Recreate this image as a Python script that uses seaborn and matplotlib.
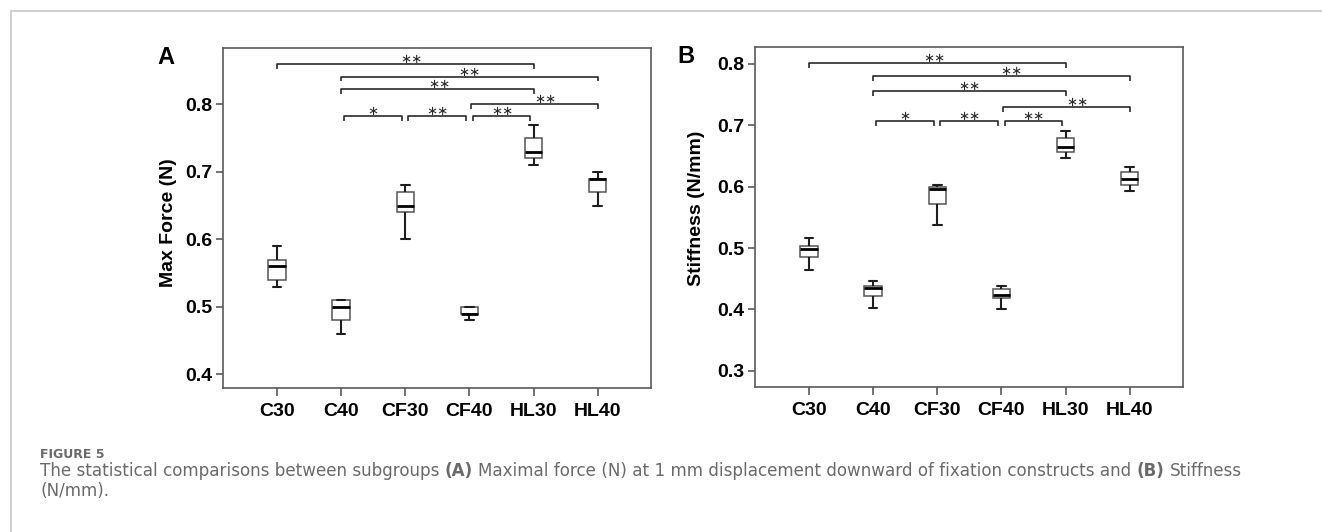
import matplotlib
matplotlib.use("Agg")
import matplotlib.pyplot as plt
import seaborn as sns
import pandas as pd
from matplotlib.lines import Line2D

# ---------------- data ----------------
groups = ["C30", "C40", "CF30", "CF40", "HL30", "HL40"]

force_min = [0.53, 0.46, 0.60, 0.48, 0.71, 0.65]
force_q1 = [0.54, 0.48, 0.64, 0.49, 0.72, 0.67]
force_med = [0.56, 0.50, 0.65, 0.49, 0.73, 0.69]
force_q3 = [0.57, 0.51, 0.67, 0.50, 0.75, 0.69]
force_max = [0.59, 0.51, 0.68, 0.50, 0.77, 0.70]

stiff_min = [0.464, 0.403, 0.538, 0.400, 0.647, 0.593]
stiff_q1 = [0.486, 0.422, 0.571, 0.419, 0.656, 0.602]
stiff_med = [0.498, 0.434, 0.596, 0.423, 0.664, 0.612]
stiff_q3 = [0.504, 0.438, 0.600, 0.433, 0.680, 0.624]
stiff_max = [0.516, 0.446, 0.603, 0.438, 0.690, 0.632]

force_ticks = [0.4, 0.5, 0.6, 0.7, 0.8]
stiff_ticks = [0.3, 0.4, 0.5, 0.6, 0.7, 0.8]

comparisons = [("C30", "HL30"), ("C40", "HL40"), ("C40", "HL30"), ("CF40", "HL40"),
               ("C40", "CF30"), ("CF30", "CF40"), ("CF40", "HL30")]
comp_labels = ["\u2217\u2217", "\u2217\u2217", "\u2217\u2217", "\u2217\u2217",
               "\u2217", "\u2217\u2217", "\u2217\u2217"]

# annotation placement (style)
force_bracket_y = [0.8593, 0.8409, 0.8222, 0.8004, 0.7827, 0.7827, 0.7827]
stiff_bracket_y = [0.8021, 0.7804, 0.7565, 0.7304, 0.7075, 0.7075, 0.7075]
bracket_shrink = [0.0, 0.0, 0.0, 0.02, 0.05, 0.05, 0.05]
label_dx_force = [0.09, 0.0, 0.04, 0.18, 0.0, 0.0, 0.02]
label_dx_stiff = [-0.05, 0.15, 0.0, 0.18, 0.0, 0.0, 0.0]


def long_frame(*cols):
    rows = []
    for gi, g in enumerate(groups):
        for col in cols:
            rows.append({"group": g, "value": col[gi]})
    return pd.DataFrame(rows)


df_force = long_frame(force_min, force_q1, force_med, force_q3, force_max)
df_stiff = long_frame(stiff_min, stiff_q1, stiff_med, stiff_q3, stiff_max)

# ---------------- style ----------------
sns.set_theme(style="ticks")
plt.rcParams["font.family"] = ["Liberation Sans", "DejaVu Sans"]

W, H = 1322, 532
fig = plt.figure(figsize=(W / 100, H / 100), dpi=100)

axA = fig.add_axes([223 / W, 1 - 388 / H, 428 / W, 340 / H])
axB = fig.add_axes([755 / W, 1 - 387 / H, 428 / W, 340 / H])

spine_col = "#5a5a5a"


def draw_panel(ax, df, ylim, yticks, ylabel, bracket_y, label_dx, drop, lab_xy, letter, letter_xy):
    sns.boxplot(data=df, x="group", y="value", order=groups, ax=ax,
                whis=(0, 100), width=0.27, fill=True, color="white",
                boxprops=dict(facecolor="white", edgecolor="#555555", linewidth=1.1),
                whiskerprops=dict(color="#1e1e1e", linewidth=1.5),
                capprops=dict(color="#1e1e1e", linewidth=1.5),
                medianprops=dict(color="black", linewidth=2.0),
                showfliers=False)
    ax.set_xlim(-0.84, 5.83)
    ax.set_ylim(*ylim)
    ax.set_yticks(yticks)
    ax.set_yticklabels([f"{t:.1f}" for t in yticks])
    ax.set_xlabel("")
    ax.set_ylabel(ylabel, fontsize=14, fontweight="bold", color="black")
    ax.yaxis.set_label_coords(lab_xy[0], lab_xy[1])
    for s in ax.spines.values():
        s.set_visible(True)
        s.set_color(spine_col)
        s.set_linewidth(1.2)
    ax.tick_params(axis="y", length=5, width=1.2, color=spine_col, pad=3,
                   labelsize=14, labelcolor="black")
    ax.tick_params(axis="x", length=6, width=1.2, color=spine_col, pad=5,
                   labelsize=14, labelcolor="black")
    for lab in ax.get_xticklabels() + ax.get_yticklabels():
        lab.set_fontweight("bold")
    # significance brackets
    for k, ((g1, g2), txt) in enumerate(zip(comparisons, comp_labels)):
        x1 = groups.index(g1) + bracket_shrink[k]
        x2 = groups.index(g2) - (bracket_shrink[k] if k >= 4 else 0)
        y = bracket_y[k]
        ax.plot([x1, x1, x2, x2], [y - drop, y, y, y - drop], color="#2a2a2a",
                lw=1.2, solid_capstyle="butt", clip_on=False)
        ax.annotate(txt, xy=((x1 + x2) / 2 + label_dx[k], y), xytext=(0, 0.6),
                    textcoords="offset points", ha="center", va="baseline",
                    fontsize=9.5, color="#2a2a2a", family="DejaVu Sans")
    fig.text(letter_xy[0] / W, 1 - letter_xy[1] / H, letter, fontsize=17,
             fontweight="bold", ha="left", va="top", color="black")


draw_panel(axA, df_force, (0.3797, 0.8834), force_ticks, "Max Force (N)",
           force_bracket_y, label_dx_force, 0.0070, (-0.1075, 0.485), "A", (157, 46))
draw_panel(axB, df_stiff, (0.2734, 0.8277), stiff_ticks, "Stiffness (N/mm)",
           stiff_bracket_y, label_dx_stiff, 0.0080, (-0.117, 0.526), "B", (677, 45))

# ---------------- frame lines ----------------
frame_col = "#c4c4c4"
fig.add_artist(Line2D([10.5 / W, 10.5 / W], [0, 1 - 11 / H], transform=fig.transFigure,
                      color=frame_col, lw=1.1))
fig.add_artist(Line2D([10.5 / W, 1], [1 - 11 / H, 1 - 11 / H], transform=fig.transFigure,
                      color=frame_col, lw=1.1))

# ---------------- caption ----------------
cap_col = "#6a6a6a"
cap_font = ["DejaVu Sans"]
fig.text(40 / W, 1 - 455 / H, "FIGURE 5", fontsize=9.0, fontweight="bold",
         color=cap_col, family=cap_font, ha="left", va="center")

renderer = fig.canvas.get_renderer()

pieces = [("The statistical comparisons between subgroups", "normal", True),
          ("(A)", "bold", True),
          ("Maximal force (N) at 1 mm displacement downward of fixation constructs and", "normal", True),
          ("(B)", "bold", True),
          ("Stiffness", "normal", False)]


def text_width(s, weight, size):
    t = fig.text(0, 0, s, fontsize=size, fontweight=weight, family=cap_font)
    w = t.get_window_extent(renderer=renderer).width
    t.remove()
    return w


def line_width(size):
    sw = text_width("x x", "normal", size) - text_width("xx", "normal", size)
    total = 0.0
    for s, wgt, sp in pieces:
        total += text_width(s, wgt, size) + (sw if sp else 0)
    return total, sw


base = 11.0
wbase, _ = line_width(base)
cap_size = base * (1250 - 40) / wbase
_, space_w = line_width(cap_size)

x = 40.0
y1 = 1 - 471 / H
for s, wgt, sp in pieces:
    t = fig.text(x / W, y1, s, fontsize=cap_size, fontweight=wgt, color=cap_col,
                 family=cap_font, ha="left", va="center")
    x = t.get_window_extent(renderer=renderer).x1 + (space_w if sp else 0)
fig.text(40 / W, 1 - 491 / H, "(N/mm).", fontsize=cap_size, color=cap_col,
         family=cap_font, ha="left", va="center")

fig.savefig("out.png", dpi=100)
